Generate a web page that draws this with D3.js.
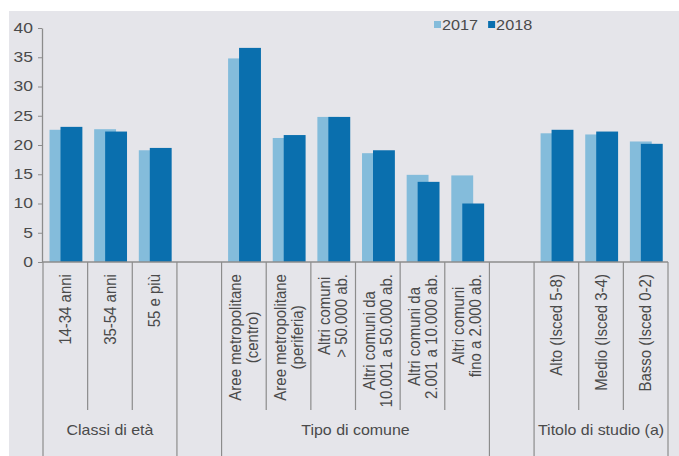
<!DOCTYPE html>
<html>
<head>
<meta charset="utf-8">
<script src="https://cdn.jsdelivr.net/npm/d3@7"></script>
<style>
  body { margin: 0; background: #fff; }
  svg { display: block; font-family: "Liberation Sans", Arial, sans-serif; }
</style>
</head>
<body>
<div id="chart"></div>
<script>
// dati
const groups = ["Classi di età", "Tipo di comune", "Titolo di studio (a)"];
const categories = [
  ["14-34 anni"],
  ["35-54 anni"],
  ["55 e più"],
  ["Aree metropolitane", "(centro)"],
  ["Aree metropolitane", "(periferia)"],
  ["Altri comuni", "> 50.000 ab."],
  ["Altri comuni da", "10.001 a 50.000 ab."],
  ["Altri comuni da", "2.001 a 10.000 ab."],
  ["Altri comuni", "fino a 2.000 ab."],
  ["Alto (Isced 5-8)"],
  ["Medio (Isced 3-4)"],
  ["Basso (Isced 0-2)"],
];
const categoryGroup = [0, 0, 0, 1, 1, 1, 1, 1, 1, 2, 2, 2];
const series = ["2017", "2018"];
const values2017 = [22.6, 22.7, 19.1, 34.8, 21.2, 24.8, 18.6, 14.9, 14.8, 22.0, 21.8, 20.6];
const values2018 = [23.1, 22.3, 19.5, 36.6, 21.7, 24.8, 19.1, 13.7, 10.0, 22.6, 22.3, 20.2];
const yTicks = [0, 5, 10, 15, 20, 25, 30, 35, 40];

const colors = { "2017": "#84bcdb", "2018": "#0a6fae" };
const width = 679, height = 456;
const margin = { left: 43, right: 11, top: 28, bottom: 194 };

// slot list: categories with an empty slot between groups
const slots = [];
categories.forEach((c, i) => {
  if (i > 0 && categoryGroup[i] !== categoryGroup[i - 1]) slots.push("gap" + i);
  slots.push("c" + i);
});

const svg = d3.select("#chart").append("svg")
  .attr("width", width).attr("height", height);

// pannello grigio
svg.append("rect")
  .attr("x", 9).attr("y", 11)
  .attr("width", width - 9).attr("height", height - 11)
  .attr("fill", "#e5e5ea");

const x = d3.scaleBand()
  .domain(slots)
  .range([margin.left, width - margin.right])
  .padding(0);
const bw = x.bandwidth();

const x1 = d3.scalePoint()
  .domain(series)
  .range([bw * 0.146, bw * 0.392]);
const barW = bw * 0.49;

const y = d3.scaleLinear()
  .domain([0, 40])
  .range([height - margin.bottom, margin.top]);

const axisColor = "#8c8c8c";
const textColor = "#4a4a4a";

// asse y
const yAxis = svg.append("g")
  .attr("transform", `translate(${margin.left - 1},0)`)
  .call(d3.axisLeft(y).tickValues(yTicks).tickSize(4).tickPadding(4).tickSizeOuter(0));
yAxis.select(".domain").attr("stroke", axisColor).attr("stroke-width", 1.3);
yAxis.selectAll(".tick line").attr("stroke", axisColor);
yAxis.selectAll(".tick text")
  .attr("x", 0)
  .attr("transform", "translate(-9,0) scale(1.25,1)")
  .attr("fill", textColor)
  .style("font-size", "14px")
  .style("font-family", "'Liberation Sans', Arial, sans-serif");

// barre
const rows = categories.map((c, i) => ({ key: "c" + i, "2017": values2017[i], "2018": values2018[i] }));
series.forEach((s) => {
  svg.append("g").selectAll("rect")
    .data(rows)
    .join("rect")
    .attr("x", (d) => x(d.key) + x1(s))
    .attr("y", (d) => y(d[s]))
    .attr("width", barW)
    .attr("height", (d) => y(0) - y(d[s]))
    .attr("fill", colors[s]);
});

// asse x e separatori
const y0 = y(0);
svg.append("line")
  .attr("x1", margin.left - 1).attr("x2", width - margin.right)
  .attr("y1", y0).attr("y2", y0)
  .attr("stroke", axisColor).attr("stroke-width", 1.3);

const shortEnd = 410;
const boundaries = [];
slots.forEach((s, i) => {
  const prev = i > 0 ? slots[i - 1] : null;
  const isLong = i === 0 || s.startsWith("gap") || (prev && prev.startsWith("gap"));
  boundaries.push({ xv: x(s), long: isLong });
});
boundaries.push({ xv: width - margin.right, long: true });

svg.append("g").selectAll("line")
  .data(boundaries)
  .join("line")
  .attr("x1", (d) => d.xv).attr("x2", (d) => d.xv)
  .attr("y1", y0).attr("y2", (d) => (d.long ? height : shortEnd))
  .attr("stroke", axisColor).attr("stroke-width", 1.2);

// etichette categorie (ruotate)
const labelTop = y0 + 12;
const lineGap = 17;
categories.forEach((lines, i) => {
  const cx = x("c" + i) + bw / 2;
  const g = svg.append("g");
  const texts = lines.map((l) => g.append("text")
    .text(l)
    .attr("fill", textColor)
    .style("font-size", "15px")
    .attr("text-anchor", "middle"));
  const maxLen = d3.max(texts, (t) => t.node().getComputedTextLength());
  const cy = labelTop + maxLen / 2;
  texts.forEach((t, j) => {
    const off = (j - (lines.length - 1) / 2) * lineGap;
    t.attr("transform", `translate(${cx + off},${cy}) scale(1.12,1) rotate(-90) translate(0,5)`);
  });
});

// etichette gruppi
groups.forEach((gname, gi) => {
  const idx = categoryGroup.map((g, i) => (g === gi ? i : -1)).filter((i) => i >= 0);
  const x0 = x("c" + idx[0]);
  const xEnd = x("c" + idx[idx.length - 1]) + bw;
  svg.append("text")
    .attr("transform", `translate(${(x0 + xEnd) / 2},435) scale(1.14,1)`)
    .attr("text-anchor", "middle")
    .attr("fill", textColor)
    .style("font-size", "14px")
    .text(gname);
});

// legenda
const legend = svg.append("g").attr("transform", "translate(434,25)");
let lx = 0;
series.forEach((s) => {
  legend.append("rect")
    .attr("x", lx).attr("y", -4).attr("width", 7).attr("height", 7)
    .attr("fill", colors[s]);
  const t = legend.append("text")
    .attr("transform", `translate(${lx + 8},5) scale(1.16,1)`)
    .attr("fill", textColor)
    .style("font-size", "14px")
    .text(s);
  lx += 8 + t.node().getComputedTextLength() * 1.16 + 10;
});
</script>
</body>
</html>
